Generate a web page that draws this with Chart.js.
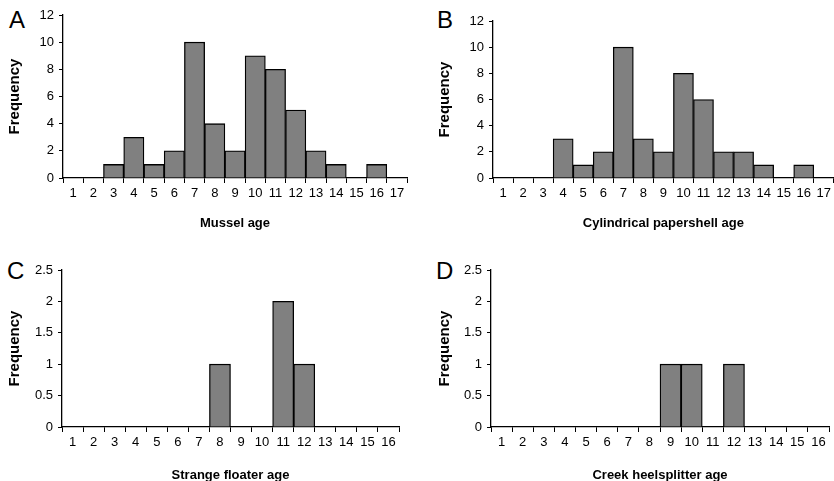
<!DOCTYPE html>
<html>
<head>
<meta charset="utf-8">
<script src="https://cdn.jsdelivr.net/npm/chart.js@4.4.1/dist/chart.umd.min.js"></script>
<style>
  html, body { margin: 0; padding: 0; background: #fff; overflow: hidden; }
  body { width: 834px; height: 481px; position: relative; font-family: "Liberation Sans", Arial, sans-serif; }
  canvas { position: absolute; }
  .panel-letter { position: absolute; font-size: 24px; color: #000; line-height: 1; }
</style>
</head>
<body>
<div class="panel-letter" style="left:9px;top:8px">A</div>
<div class="panel-letter" style="left:437px;top:8px">B</div>
<div class="panel-letter" style="left:7px;top:259px">C</div>
<div class="panel-letter" style="left:436px;top:259px">D</div>
<canvas id="chart-a" width="417" height="240" style="left:0;top:0"></canvas>
<canvas id="chart-b" width="417" height="240" style="left:417px;top:0"></canvas>
<canvas id="chart-c" width="417" height="250" style="left:0;top:240px"></canvas>
<canvas id="chart-d" width="417" height="250" style="left:417px;top:240px"></canvas>
<script>
// Idades (categorias) e frequências
const idadesTopo = ['1','2','3','4','5','6','7','8','9','10','11','12','13','14','15','16','17'];
const idadesBase = ['1','2','3','4','5','6','7','8','9','10','11','12','13','14','15','16'];

const freqMussel = [0, 0, 1, 3, 1, 2, 10, 4, 2, 9, 8, 5, 2, 1, 0, 1, 0];
const freqPapershell = [0, 0, 0, 3, 1, 2, 10, 3, 2, 8, 6, 2, 2, 1, 0, 1, 0];
const freqFloater = [0, 0, 0, 0, 0, 0, 0, 1, 0, 0, 2, 1, 0, 0, 0, 0];
const freqHeelsplitter = [0, 0, 0, 0, 0, 0, 0, 0, 1, 1, 0, 1, 0, 0, 0, 0];

const ticksTopo = { max: 12, step: 2 };
const ticksBase = { max: 2.5, step: 0.5 };

const FONTE = '"Liberation Sans", Arial, sans-serif';

/** Monta um histograma com as dimensões de eixo fixas. */
function criarHistograma(canvasId, labels, dados, cfg) {
    const ctx = document.getElementById(canvasId).getContext('2d');
    return new Chart(ctx, {
        type: 'bar',
        data: {
            labels: labels,
            datasets: [{
                data: dados,
                backgroundColor: '#808080',
                borderColor: '#000',
                borderWidth: 1.3,
                barPercentage: 1,
                categoryPercentage: 1
            }]
        },
        options: {
            responsive: false,
            animation: false,
            events: [],
            layout: { padding: cfg.padding },
            plugins: { legend: { display: false }, tooltip: { enabled: false } },
            scales: {
                x: {
                    grid: { display: true, offset: true, drawOnChartArea: false, drawTicks: true, tickLength: 5, color: '#000', lineWidth: 1 },
                    border: { display: true, color: '#000', width: 1.3 },
                    ticks: { color: '#000', padding: 3, autoSkip: false, maxRotation: 0, font: { family: FONTE, size: 13 } },
                    title: { display: true, text: cfg.tituloX, color: '#000', padding: { top: 0, bottom: cfg.padTituloX }, font: { family: FONTE, size: 13, weight: 'bold' } },
                    afterFit: scale => { scale.height = cfg.alturaX; }
                },
                y: {
                    min: 0,
                    max: cfg.ticks.max,
                    grid: { display: true, drawOnChartArea: false, drawTicks: true, tickLength: 4, color: '#000', lineWidth: 1 },
                    border: { display: true, color: '#000', width: 1.3 },
                    ticks: { stepSize: cfg.ticks.step, color: '#000', padding: 5, font: { family: FONTE, size: 13 }, callback: v => String(v) },
                    title: { display: true, text: 'Frequency', color: '#000', padding: { top: cfg.padTituloY, bottom: 0 }, font: { family: FONTE, size: 15, weight: 'bold' } },
                    afterFit: scale => { scale.width = cfg.larguraY; }
                }
            }
        }
    });
}

criarHistograma('chart-a', idadesTopo, freqMussel, {
    tituloX: 'Mussel age', ticks: ticksTopo,
    padding: { top: 15, left: 0, right: 10, bottom: 0 },
    larguraY: 63, alturaX: 62, padTituloX: 9, padTituloY: 6
});
criarHistograma('chart-b', idadesTopo, freqPapershell, {
    tituloX: 'Cylindrical papershell age', ticks: ticksTopo,
    padding: { top: 21, left: 0, right: 0, bottom: 0 },
    larguraY: 76, alturaX: 62, padTituloX: 9, padTituloY: 19
});
criarHistograma('chart-c', idadesBase, freqFloater, {
    tituloX: 'Strange floater age', ticks: ticksBase,
    padding: { top: 30, left: 0, right: 18, bottom: 0 },
    larguraY: 62, alturaX: 63, padTituloX: 7, padTituloY: 6
});
criarHistograma('chart-d', idadesBase, freqHeelsplitter, {
    tituloX: 'Creek heelsplitter age', ticks: ticksBase,
    padding: { top: 30, left: 0, right: 5, bottom: 0 },
    larguraY: 74, alturaX: 63, padTituloX: 7, padTituloY: 19
});
</script>
</body>
</html>
